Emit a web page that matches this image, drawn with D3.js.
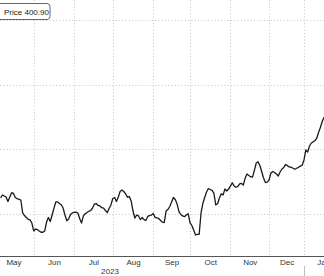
<!DOCTYPE html>
<html>
<head>
<meta charset="utf-8">
<script src="https://cdn.jsdelivr.net/npm/d3@7"></script>
<style>
  html, body { margin: 0; padding: 0; background: #fff; }
  svg { display: block; font-family: "Liberation Sans", Arial, sans-serif; }
</style>
</head>
<body>
<svg id="chart" width="324" height="276"></svg>
<script>
// daily closes, one value per trading session (May only the sessions still in view)
const may = [262.4, 264.7, 263.9, 263.1, 259.7, 263.1, 266.5, 265.9, 262.8, 261.8, 261.4, 260.8, 250.8, 248.8, 247.3, 245.9, 245.5, 243.0];
const jun = [236.9, 238.4, 238.0, 236.9, 235.9, 235.9, 236.9, 243.8, 247.3, 244.2, 249.2, 254.3, 259.3, 259.3, 258.1, 257.2, 254.6, 249.2, 244.8, 246.1, 249.6, 250.8];
const jul = [251.2, 251.5, 250.8, 246.5, 243.0, 248.5, 250.2, 251.2, 252.1, 252.7, 254.6, 257.7, 258.1, 256.6, 256.2, 254.9, 254.5, 252.7, 251.0, 254.3, 257.0];
const aug = [262.0, 262.8, 259.7, 263.1, 267.4, 268.6, 267.4, 265.6, 262.9, 263.5, 260.1, 252.3, 246.9, 249.2, 248.5, 245.7, 247.3, 245.7, 245.0, 248.1, 248.8, 249.2];
const sep = [250.4, 247.4, 247.1, 246.5, 245.0, 243.8, 243.4, 252.3, 253.5, 255.8, 259.3, 262.8, 261.2, 257.7, 251.9, 249.6, 248.5, 247.9, 249.2, 250.2];
const oct = [243.3, 241.1, 237.6, 233.8, 234.2, 234.3, 250.8, 258.3, 262.8, 267.0, 269.7, 268.9, 268.3, 266.2, 257.1, 257.9, 262.4, 265.7, 264.7, 269.3, 267.8, 269.3];
const nov = [271.6, 274.2, 271.6, 270.7, 271.4, 273.2, 273.6, 272.4, 277.8, 280.9, 279.8, 278.8, 278.5, 283.6, 289.4, 290.4, 287.5, 282.7, 277.8, 274.3, 274.6];
const dec = [276.3, 281.7, 282.9, 282.1, 280.9, 279.4, 282.5, 284.8, 286.0, 288.3, 287.4, 286.3, 286.2, 285.4, 284.6, 285.4, 286.1, 287.0, 287.7];
const jan = [291.8, 299.5, 297.8, 302.6, 304.9, 305.8, 306.8, 308.8, 313.4, 317.3, 321.9, 325.0];

const monthLabels = ['May', 'Jun', 'Jul', 'Aug', 'Sep', 'Oct', 'Nov', 'Dec', 'Jan'];
// session index where each month begins (0 = first visible session), last one = Feb
const monthStarts = [-4, 18, 40, 61, 83, 103, 125, 146, 165, 186];
const yearLabel = '2023';
const yearStart = -46;   // chart begins in March, off the left edge
const yTicks = [250, 300, 350, 400];
const legendLabel = 'Price 400.90';

const prices = [].concat(may, jun, jul, aug, sep, oct, nov, dec, jan);
const data = prices.map((v, i) => ({i: i, v: v}));

const svg = d3.select('#chart');
const W = 324, axisY = 256.5;

const x = d3.scaleLinear().domain([0, 165]).range([0.6, 304]);
const y = d3.scaleLinear().domain([250, 400]).range([214, 20]);

// grid
const grid = svg.append('g').attr('stroke', '#c4c4c4').attr('stroke-width', 1)
  .attr('stroke-dasharray', '1,2.3');
grid.selectAll('line.h').data(yTicks).join('line').attr('class', 'h')
  .attr('x1', 0).attr('x2', W)
  .attr('y1', d => Math.round(y(d)) + 0.5).attr('y2', d => Math.round(y(d)) + 0.5);
grid.selectAll('line.v').data(monthStarts.slice(1, -1)).join('line').attr('class', 'v')
  .attr('x1', d => Math.round(x(d)) + 0.5).attr('x2', d => Math.round(x(d)) + 0.5)
  .attr('y1', 0).attr('y2', axisY);

// price line
svg.append('path').datum(data)
  .attr('fill', 'none').attr('stroke', '#1a1a1a').attr('stroke-width', 1.3)
  .attr('stroke-linejoin', 'round')
  .attr('d', d3.line().x(d => x(d.i)).y(d => y(d.v)));

// bottom axis: month names centred between month starts
const mids = monthLabels.map((m, k) => (monthStarts[k] + monthStarts[k + 1]) / 2);
const ax = svg.append('g').attr('transform', `translate(0,${axisY})`)
  .call(d3.axisBottom(x).tickValues(mids).tickSize(0).tickPadding(3)
    .tickFormat((d, k) => monthLabels[k]));
ax.select('.domain').remove();
ax.selectAll('text').attr('fill', '#333').style('font-size', '8px')
  .style('font-family', '"Liberation Sans", Arial, sans-serif');

svg.append('line').attr('x1', 0).attr('x2', W).attr('y1', axisY).attr('y2', axisY)
  .attr('stroke', '#555').attr('stroke-width', 1);

svg.append('text').attr('x', (x(yearStart) + x(monthStarts[8])) / 2).attr('y', 274)
  .attr('text-anchor', 'middle').attr('fill', '#333').style('font-size', '8px')
  .text(yearLabel);

// year divider below the axis
svg.append('line').attr('x1', Math.round(x(monthStarts[8])) + 0.5).attr('x2', Math.round(x(monthStarts[8])) + 0.5)
  .attr('y1', 266).attr('y2', 276).attr('stroke', '#bbb');

// legend box, cut by the left edge
const lg = svg.append('g');
lg.append('rect').attr('x', -12).attr('y', 3.5).attr('width', 62).attr('height', 16).attr('rx', 3)
  .attr('fill', '#fff').attr('stroke', '#666');
lg.append('text').attr('x', 4).attr('y', 14.5).attr('fill', '#222').style('font-size', '8px')
  .text(legendLabel);
</script>
</body>
</html>
